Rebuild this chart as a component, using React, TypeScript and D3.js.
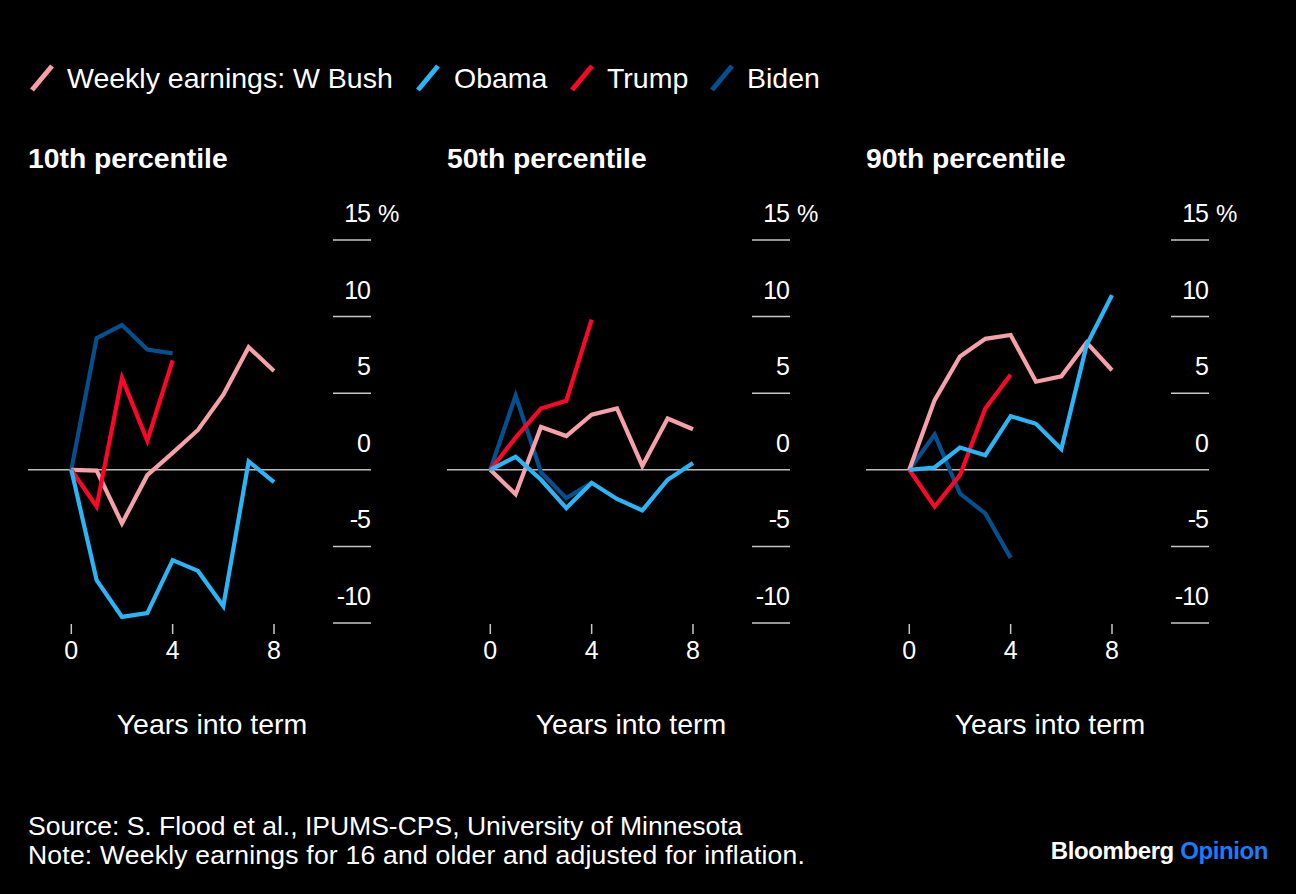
import React from "react";
import * as d3 from "d3";

const years = [0, 1, 2, 3, 4, 5, 6, 7, 8];
const panelTitles = ["10th percentile", "50th percentile", "90th percentile"];
const seriesNames = ["Biden", "W Bush", "Trump", "Obama"];
const legendLabels = ["Weekly earnings: W Bush", "Obama", "Trump", "Biden"];
const legendKeys = ["W Bush", "Obama", "Trump", "Biden"];
const yTicks = [15, 10, 5, 0, -5, -10];
const xTicks = [0, 4, 8];

// values (% change since start of term), one array per panel
const bush10 = [0, -0.05, -3.5, -0.35, 1.1, 2.6, 4.9, 8.0, 6.45];
const obama10 = [0, -7.2, -9.6, -9.35, -5.9, -6.6, -8.9, 0.55, -0.8];
const trump10 = [0, -2.4, 6.0, 1.9, 7.15];
const biden10 = [0, 8.6, 9.45, 7.85, 7.6];

const bush50 = [0, -1.6, 2.8, 2.2, 3.6, 4.0, 0.25, 3.35, 2.65];
const obama50 = [0, 0.85, -0.65, -2.5, -0.85, -1.9, -2.65, -0.65, 0.45];
const trump50 = [0, 2.1, 4.0, 4.5, 9.8];
const biden50 = [0, 4.85, -0.15, -1.85, -0.85];

const bush90 = [0, 4.55, 7.4, 8.55, 8.8, 5.75, 6.1, 8.3, 6.5];
const obama90 = [0, 0.15, 1.45, 0.95, 3.5, 3.0, 1.35, 8.15, 11.4];
const trump90 = [0, -2.4, -0.35, 4.0, 6.2];
const biden90 = [0, 2.3, -1.55, -2.85, -5.75];

const panelData: Record<string, number[]>[] = [
  { "W Bush": bush10, Obama: obama10, Trump: trump10, Biden: biden10 },
  { "W Bush": bush50, Obama: obama50, Trump: trump50, Biden: biden50 },
  { "W Bush": bush90, Obama: obama90, Trump: trump90, Biden: biden90 },
];

const colors: Record<string, string> = {
  "W Bush": "#f7a0aa",
  Obama: "#2ab6f6",
  Trump: "#ff0628",
  Biden: "#03508f",
};

const FONT = "'Liberation Sans', Arial, sans-serif";

function Panel({ index }: { index: number }) {
  const ox = 28 + index * 419;
  const x = d3.scaleLinear().domain([0, 8]).range([ox + 43.3, ox + 246]);
  const y = d3.scaleLinear().domain([-10, 15]).range([623, 240]);
  const line = d3
    .line<number>()
    .x((_, i) => x(years[i]))
    .y((d) => y(d));
  const data = panelData[index];
  const gridX1 = ox + 305;
  const gridX2 = ox + 343;
  return (
    <g>
      <text x={ox} y={168} fill="#fff" fontFamily={FONT} fontWeight="bold" fontSize={28.3}>
        {panelTitles[index]}
      </text>
      {yTicks.map((t) =>
        t === 0 ? null : (
          <line key={"g" + t} x1={gridX1} x2={gridX2} y1={y(t)} y2={y(t)} stroke="#c8c8c8" strokeWidth={1.5} />
        )
      )}
      <line x1={ox} x2={gridX2} y1={y(0)} y2={y(0)} stroke="#bdbdbd" strokeWidth={1.5} />
      {yTicks.map((t) => (
        <g key={"t" + t}>
          <text x={gridX2 - 1} y={y(t) - 18} fill="#fff" fontFamily={FONT} fontSize={25} textAnchor="end" letterSpacing={-1}>
            {t}
          </text>
          {t === 15 ? (
            <text x={gridX2 + 7} y={y(t) - 18} fill="#fff" fontFamily={FONT} fontSize={24}>
              %
            </text>
          ) : null}
        </g>
      ))}
      {xTicks.map((t) => (
        <g key={"x" + t}>
          <line x1={x(t)} x2={x(t)} y1={624} y2={634} stroke="#c8c8c8" strokeWidth={1.5} />
          <text x={x(t)} y={659} fill="#fff" fontFamily={FONT} fontSize={25} textAnchor="middle">
            {t}
          </text>
        </g>
      ))}
      <text x={ox + 184} y={734} fill="#fff" fontFamily={FONT} fontSize={28.5} textAnchor="middle">
        Years into term
      </text>
      {seriesNames.map((s) => (
        <path
          key={s}
          d={line(data[s]) || ""}
          fill="none"
          stroke={colors[s]}
          strokeWidth={4.2}
          strokeLinejoin="miter"
          strokeLinecap="butt"
        />
      ))}
    </g>
  );
}

export default function App() {
  const legendPos = [
    { sx: 30, tx: 67 },
    { sx: 416, tx: 454 },
    { sx: 570, tx: 607 },
    { sx: 710, tx: 747 },
  ];
  return (
    <svg width={1296} height={894} style={{ display: "block", position: "absolute", left: 0, top: 0, background: "#000" }}>
      <rect x={0} y={0} width={1296} height={894} fill="#000" />
      {legendKeys.map((k, i) => (
        <g key={k}>
          <line
            x1={legendPos[i].sx + 2}
            y1={90}
            x2={legendPos[i].sx + 22}
            y2={66}
            stroke={colors[k]}
            strokeWidth={5}
          />
          <text x={legendPos[i].tx} y={88} fill="#fff" fontFamily={FONT} fontSize={28.5}>
            {legendLabels[i]}
          </text>
        </g>
      ))}
      {[0, 1, 2].map((i) => (
        <Panel key={i} index={i} />
      ))}
      <text x={28} y={835} fill="#fff" fontFamily={FONT} fontSize={26.5}>
        Source: S. Flood et al., IPUMS-CPS, University of Minnesota
      </text>
      <text x={28} y={864} fill="#fff" fontFamily={FONT} fontSize={26.5} letterSpacing={0.22}>
        Note: Weekly earnings for 16 and older and adjusted for inflation.
      </text>
      <text x={1268} y={859} fontFamily={FONT} fontWeight="bold" fontSize={24} textAnchor="end" letterSpacing={-0.4}>
        <tspan fill="#fff">Bloomberg </tspan>
        <tspan fill="#1a7cff">Opinion</tspan>
      </text>
    </svg>
  );
}
